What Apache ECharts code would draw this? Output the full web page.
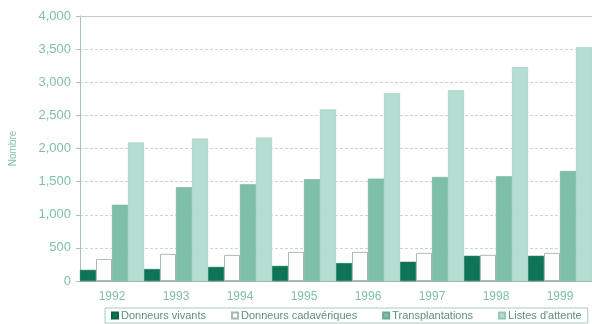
<!DOCTYPE html>
<html>
<head>
<meta charset="utf-8">
<script src="https://cdn.jsdelivr.net/npm/echarts@6/dist/echarts.min.js"></script>
<style>
  html, body { margin: 0; padding: 0; background: #fff; }
  #chart { width: 592px; height: 324px; }
</style>
</head>
<body>
<div id="chart"></div>
<script>
// années
const years = ['1992', '1993', '1994', '1995', '1996', '1997', '1998', '1999'];
// valeurs
const donneursVivants = [167, 180, 212, 227, 270, 290, 380, 380];
const donneursCadaveriques = [333, 410, 394, 440, 440, 425, 395, 425];
const transplantations = [1150, 1415, 1460, 1535, 1545, 1570, 1580, 1660];
const listesAttente = [2090, 2150, 2165, 2590, 2835, 2880, 3230, 3530];

const chart = echarts.init(document.getElementById('chart'));

const tickColor = '#7fbfae';

let option = {
  animation: false,
  textStyle: {fontFamily: 'Liberation Sans, Arial, sans-serif'},
  grid: {left: 78, right: 0, top: 16, bottom: 43},
  legend: {
    left: 105,
    bottom: 1,
    padding: [2, 6],
    itemGap: 25,
    itemWidth: 6,
    itemHeight: 6,
    icon: 'rect',
    borderColor: '#a9c9bf',
    borderWidth: 1,
    textStyle: {fontSize: 11, color: '#5f8f80', padding: [0, 0, 0, -2]},
    data: ['Donneurs vivants', 'Donneurs cadavériques', 'Transplantations', "Listes d'attente"]
  },
  xAxis: [
    {
      type: 'category',
      data: years,
      axisLine: {lineStyle: {color: '#9fb9b1'}},
      axisTick: {show: false},
      axisLabel: {color: tickColor, fontSize: 12, margin: 10}
    },
    {
      // ligne du haut (4 000)
      type: 'category',
      position: 'top',
      data: years,
      axisLine: {lineStyle: {color: '#b9ccc6'}},
      axisTick: {show: false},
      axisLabel: {show: false}
    }
  ],
  yAxis: {
    type: 'value',
    min: 0,
    max: 4000,
    interval: 500,
    name: 'Nombre',
    nameLocation: 'middle',
    nameGap: 62,
    nameTextStyle: {color: tickColor, fontSize: 10},
    axisLine: {show: true, lineStyle: {color: '#a8c2ba'}},
    axisTick: {show: true, length: 4, lineStyle: {color: '#a8c2ba'}},
    axisLabel: {
      color: tickColor,
      fontSize: 13,
      margin: 9,
      formatter: v => v.toLocaleString('en-US')
    },
    splitLine: {lineStyle: {color: '#c9d6d2', type: [3, 2]}}
  },
  series: [
    {
      name: 'Donneurs vivants',
      type: 'bar',
      barGap: '0%',
      barCategoryGap: '0%',
      itemStyle: {color: '#0f7355', borderColor: '#0b6048', borderWidth: 0.5},
      data: donneursVivants
    },
    {
      name: 'Donneurs cadavériques',
      type: 'bar',
      itemStyle: {color: '#ffffff', borderColor: '#a9bab5', borderWidth: 1},
      data: donneursCadaveriques
    },
    {
      name: 'Transplantations',
      type: 'bar',
      itemStyle: {color: '#7fbfaa', borderColor: '#6aa996', borderWidth: 0.5},
      data: transplantations
    },
    {
      name: "Listes d'attente",
      type: 'bar',
      itemStyle: {color: '#b6ddd1', borderColor: '#98c6b8', borderWidth: 0.5},
      data: listesAttente
    }
  ]
};
chart.setOption(option);
</script>
</body>
</html>
